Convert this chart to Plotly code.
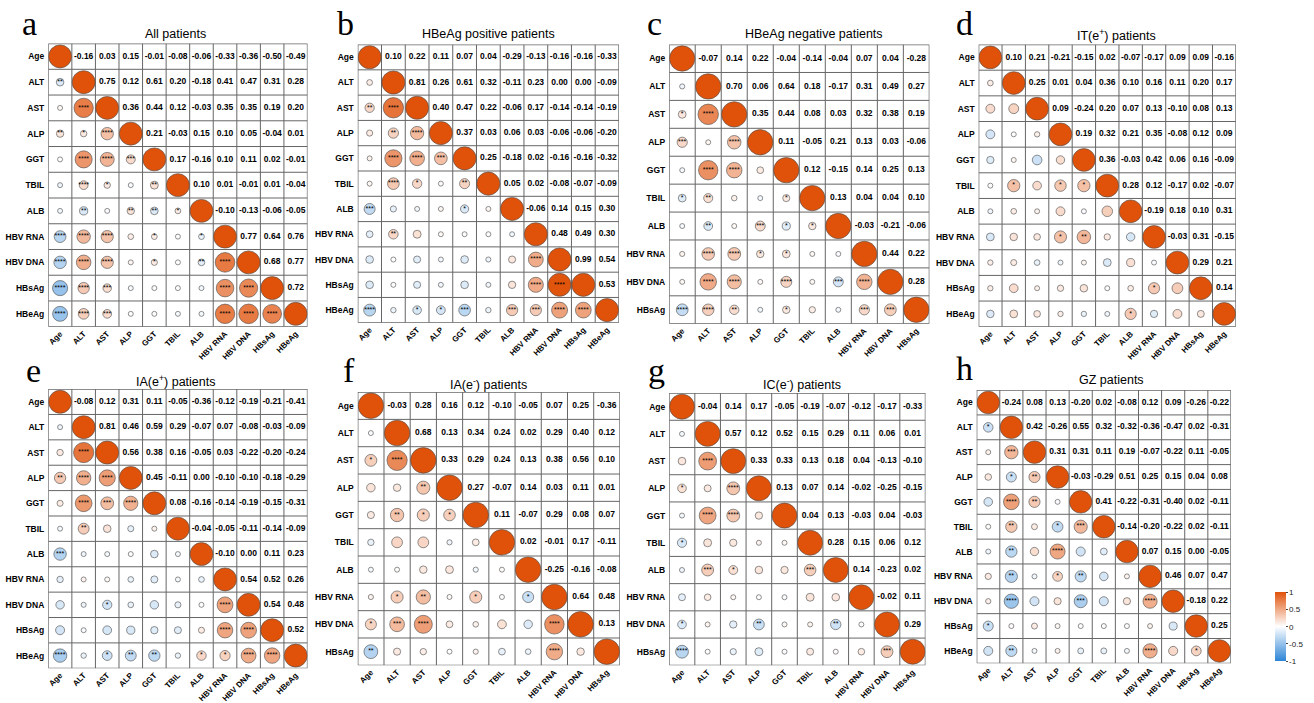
import math
import plotly.graph_objects as go

W, H = 1314, 703

VARS11 = ["Age", "ALT", "AST", "ALP", "GGT", "TBIL", "ALB", "HBV RNA", "HBV DNA", "HBsAg", "HBeAg"]
VARS10 = VARS11[:10]

# ---------------- data: upper-triangle correlation values (row i, columns j>i) ----------------
a_upper = [
    [-0.16, 0.03, 0.15, -0.01, -0.08, -0.06, -0.33, -0.36, -0.50, -0.49],
    [0.75, 0.12, 0.61, 0.20, -0.18, 0.41, 0.47, 0.31, 0.28],
    [0.36, 0.44, 0.12, -0.03, 0.35, 0.35, 0.19, 0.20],
    [0.21, -0.03, 0.15, 0.10, 0.05, -0.04, 0.01],
    [0.17, -0.16, 0.10, 0.11, 0.02, -0.01],
    [0.10, 0.01, -0.01, 0.01, -0.04],
    [-0.10, -0.13, -0.06, -0.05],
    [0.77, 0.64, 0.76],
    [0.68, 0.77],
    [0.72],
]
a_stars = [[2], [0, 4], [2, 1, 4], [0, 4, 4, 3], [0, 4, 1, 0, 2], [0, 2, 0, 2, 2, 1],
           [4, 4, 4, 0, 1, 0, 1], [4, 4, 4, 0, 1, 0, 2, 4], [4, 4, 3, 0, 0, 0, 0, 4, 4],
           [4, 4, 3, 0, 0, 0, 0, 4, 4, 4]]

b_upper = [
    [0.10, 0.22, 0.11, 0.07, 0.04, -0.29, -0.13, -0.16, -0.16, -0.33],
    [0.81, 0.26, 0.61, 0.32, -0.11, 0.23, 0.00, 0.00, -0.09],
    [0.40, 0.47, 0.22, -0.06, 0.17, -0.14, -0.14, -0.19],
    [0.37, 0.03, 0.06, 0.03, -0.06, -0.06, -0.20],
    [0.25, -0.18, 0.02, -0.16, -0.16, -0.32],
    [0.05, 0.02, -0.08, -0.07, -0.09],
    [-0.06, 0.14, 0.15, 0.30],
    [0.48, 0.49, 0.30],
    [0.99, 0.54],
    [0.53],
]
b_stars = [[0], [2, 4], [0, 2, 4], [0, 4, 4, 3], [0, 4, 1, 0, 2], [3, 0, 0, 0, 1, 0],
           [0, 2, 0, 0, 0, 0, 0], [0, 0, 0, 0, 0, 0, 0, 4], [0, 0, 0, 0, 0, 0, 0, 4, 4],
           [4, 0, 1, 1, 3, 0, 3, 3, 4, 4]]

c_upper = [
    [-0.07, 0.14, 0.22, -0.04, -0.14, -0.04, 0.07, 0.04, -0.28],
    [0.70, 0.06, 0.64, 0.18, -0.17, 0.31, 0.49, 0.27],
    [0.35, 0.44, 0.08, 0.03, 0.32, 0.38, 0.19],
    [0.11, -0.05, 0.21, 0.13, 0.03, -0.06],
    [0.12, -0.15, 0.14, 0.25, 0.13],
    [0.13, 0.04, 0.04, 0.10],
    [-0.03, -0.21, -0.06],
    [0.44, 0.22],
    [0.28],
]
c_stars = [[0], [1, 4], [3, 0, 4], [0, 4, 4, 0], [1, 2, 0, 0, 1], [0, 2, 0, 3, 1, 1],
           [0, 4, 4, 1, 1, 0, 0], [0, 4, 4, 0, 4, 0, 3, 4], [4, 4, 2, 0, 1, 0, 0, 3, 3]]

d_upper = [
    [0.10, 0.21, -0.21, -0.15, 0.02, -0.07, -0.17, 0.09, 0.09, -0.16],
    [0.25, 0.01, 0.04, 0.36, 0.10, 0.16, 0.11, 0.20, 0.17],
    [0.09, -0.24, 0.20, 0.07, 0.13, -0.10, 0.08, 0.13],
    [0.19, 0.32, 0.21, 0.35, -0.08, 0.12, 0.09],
    [0.36, -0.03, 0.42, 0.06, 0.16, -0.09],
    [0.28, 0.12, -0.17, 0.02, -0.07],
    [-0.19, 0.18, 0.10, 0.31],
    [-0.03, 0.31, -0.15],
    [0.29, 0.21],
    [0.14],
]
d_stars = [[0], [0, 0], [0, 0, 0], [0, 0, 0, 0], [0, 1, 0, 1, 1], [0, 0, 0, 0, 0, 0],
           [0, 0, 0, 1, 2, 0, 0], [0, 0, 0, 0, 0, 0, 0, 0], [0, 0, 0, 0, 0, 0, 0, 1, 0],
           [0, 0, 0, 0, 0, 0, 1, 0, 0, 0]]

e_upper = [
    [-0.08, 0.12, 0.31, 0.11, -0.05, -0.36, -0.12, -0.19, -0.21, -0.41],
    [0.81, 0.46, 0.59, 0.29, -0.07, 0.07, -0.08, -0.03, -0.09],
    [0.56, 0.38, 0.16, -0.05, 0.03, -0.22, -0.20, -0.24],
    [0.45, -0.11, 0.00, -0.10, -0.10, -0.18, -0.29],
    [0.08, -0.16, -0.14, -0.19, -0.15, -0.31],
    [-0.04, -0.05, -0.11, -0.14, -0.09],
    [-0.10, 0.00, 0.11, 0.23],
    [0.54, 0.52, 0.26],
    [0.54, 0.48],
    [0.52],
]
e_stars = [[0], [0, 4], [2, 4, 4], [0, 4, 3, 4], [0, 2, 0, 0, 0], [3, 0, 0, 0, 0, 0],
           [0, 0, 0, 0, 0, 0, 0], [0, 0, 1, 0, 0, 0, 0, 4], [0, 0, 0, 0, 0, 0, 0, 4, 4],
           [4, 0, 1, 2, 2, 0, 1, 1, 4, 4]]

f_upper = [
    [-0.03, 0.28, 0.16, 0.12, -0.10, -0.05, 0.07, 0.25, -0.36],
    [0.68, 0.13, 0.34, 0.24, 0.02, 0.29, 0.40, 0.12],
    [0.33, 0.29, 0.24, 0.13, 0.38, 0.56, 0.10],
    [0.27, -0.07, 0.14, 0.03, 0.11, 0.01],
    [0.11, -0.07, 0.29, 0.08, 0.07],
    [0.02, -0.01, 0.17, -0.11],
    [-0.25, -0.16, -0.08],
    [0.64, 0.48],
    [0.13],
]
f_stars = [[0], [1, 4], [0, 0, 2], [0, 2, 1, 1], [0, 0, 0, 0, 0], [0, 0, 0, 0, 0, 0],
           [0, 1, 2, 0, 1, 0, 1], [1, 3, 4, 0, 0, 0, 0, 4], [2, 0, 0, 0, 0, 0, 0, 4, 0]]

g_upper = [
    [-0.04, 0.14, 0.17, -0.05, -0.19, -0.07, -0.12, -0.17, -0.33],
    [0.57, 0.12, 0.52, 0.15, 0.29, 0.11, 0.06, 0.01],
    [0.33, 0.33, 0.13, 0.18, 0.04, -0.13, -0.10],
    [0.13, 0.07, 0.14, -0.02, -0.25, -0.15],
    [0.04, 0.13, -0.03, 0.04, -0.03],
    [0.28, 0.15, 0.06, 0.12],
    [0.14, -0.23, 0.02],
    [-0.02, 0.11],
    [0.29],
]
g_stars = [[0], [0, 4], [1, 0, 4], [0, 4, 4, 0], [1, 0, 0, 0, 0], [0, 3, 1, 0, 0, 3],
           [0, 0, 0, 0, 0, 0, 0], [1, 0, 0, 2, 0, 0, 2, 0], [4, 0, 0, 0, 0, 0, 0, 0, 3]]

h_upper = [
    [-0.24, 0.08, 0.13, -0.20, 0.02, -0.08, 0.12, 0.09, -0.26, -0.22],
    [0.42, -0.26, 0.55, 0.32, -0.32, -0.36, -0.47, 0.02, -0.31],
    [0.31, 0.31, 0.11, 0.19, -0.07, -0.22, 0.11, -0.05],
    [-0.03, -0.29, 0.51, 0.25, 0.15, 0.04, 0.08],
    [0.41, -0.22, -0.31, -0.40, 0.02, -0.11],
    [-0.14, -0.20, -0.22, 0.02, -0.11],
    [0.07, 0.15, 0.00, -0.05],
    [0.46, 0.07, 0.47],
    [-0.18, 0.22],
    [0.25],
]
h_stars = [[1], [0, 3], [0, 1, 2], [0, 4, 2, 0], [0, 2, 0, 1, 3], [0, 2, 0, 4, 0, 0],
           [0, 2, 0, 1, 2, 0, 0], [0, 4, 0, 0, 3, 0, 0, 4], [1, 0, 0, 0, 0, 0, 0, 0, 0],
           [0, 2, 0, 0, 0, 0, 0, 4, 0, 1]]

letters = ["a", "b", "c", "d", "e", "f", "g", "h"]
titles = ["All patients", "HBeAg positive patients", "HBeAg negative patients",
          "IT(e<sup>+</sup>) patients", "IA(e<sup>+</sup>) patients",
          "IA(e<sup>-</sup>) patients", "IC(e<sup>-</sup>) patients", "GZ patients"]
var_sets = [VARS11, VARS11, VARS10, VARS11, VARS11, VARS10, VARS10, VARS11]
uppers = [a_upper, b_upper, c_upper, d_upper, e_upper, f_upper, g_upper, h_upper]
stars_all = [a_stars, b_stars, c_stars, d_stars, e_stars, f_stars, g_stars, h_stars]

# ---------------- layout geometry (pixels) ----------------
grid_px = [(48, 44, 311, 330), (362, 45, 627, 326), (678, 45, 942, 327), (992, 45, 1253, 330),
           (48, 393, 311, 675), (362, 396, 628, 672), (678, 397, 938, 672), (990, 394, 1248, 670)]
title_px = [(177, 34), (495, 34), (825, 34), (1132, 35), (177, 385), (495, 388), (813, 388), (1127, 384)]
letter_px = [(29, 24), (350, 24), (663, 24), (978, 24), (33, 374), (353, 374), (665, 374), (978, 372)]

CS = [[0, "#2C84D6"], [0.5, "#FFFFFF"], [1, "#E0520A"]]
FONT = "Liberation Sans, Arial, sans-serif"

fig = go.Figure()
shapes = []
annotations = []

for k in range(8):
    vars_ = var_sets[k]
    n = len(vars_)
    up = uppers[k]
    st = stars_all[k]
    R = [[1.0] * n for _ in range(n)]
    for i in range(n - 1):
        for jj, v in enumerate(up[i]):
            j = i + 1 + jj
            R[i][j] = v
            R[j][i] = v

    gx0, gy0, gx1, gy1 = grid_px[k]
    cw = (gx1 - gx0) / n
    ch = (gy1 - gy0) / n
    D = 0.96 * min(cw, ch)

    xa = "x" if k == 0 else f"x{k + 1}"
    ya = "y" if k == 0 else f"y{k + 1}"

    cx, cy, cc, cs_ = [], [], [], []
    sx, sy, stxt = [], [], []
    tx, ty, ttxt = [], [], []
    for i in range(n):
        for j in range(n):
            r = R[i][j]
            if j <= i:
                cx.append(vars_[j])
                cy.append(vars_[i])
                cc.append(r)
                cs_.append(max(5.0, D * abs(r) ** 0.6))
                if j < i and st[i - 1][j] > 0:
                    sx.append(vars_[j])
                    sy.append(vars_[i])
                    stxt.append("*" * st[i - 1][j])
            else:
                tx.append(vars_[j])
                ty.append(vars_[i])
                ttxt.append(f"{r:.2f}")

    marker = dict(size=cs_, color=cc, colorscale=CS, cmin=-1, cmax=1, opacity=1,
                  line=dict(color="rgba(80,80,80,0.9)", width=0.7))
    if k == 0:
        marker["showscale"] = True
        marker["colorbar"] = dict(
            x=1283 / W, xanchor="left", y=1 - 633 / H, yanchor="middle",
            len=90 / H, lenmode="fraction", thickness=11, outlinewidth=0,
            tickvals=[-1, -0.5, 0, 0.5, 1], ticktext=["-1", "-0.5", "0", "0.5", "1"],
            ticks="outside", ticklen=2, tickcolor="#444",
            tickfont=dict(size=8, family=FONT, color="#222"),
        )
    else:
        marker["showscale"] = False

    fig.add_trace(go.Scatter(x=cx, y=cy, mode="markers", marker=marker, xaxis=xa, yaxis=ya,
                             hoverinfo="skip", showlegend=False))
    fig.add_trace(go.Scatter(x=sx, y=sy, mode="text", text=stxt, textposition="middle center",
                             textfont=dict(size=7, family=FONT, color="black"),
                             xaxis=xa, yaxis=ya, hoverinfo="skip", showlegend=False))
    fig.add_trace(go.Scatter(x=tx, y=ty, mode="text", text=ttxt, textposition="middle center",
                             textfont=dict(size=8.5, family=FONT, color="black", weight="bold"),
                             xaxis=xa, yaxis=ya, hoverinfo="skip", showlegend=False))

    xkey = "xaxis" if k == 0 else f"xaxis{k + 1}"
    ykey = "yaxis" if k == 0 else f"yaxis{k + 1}"
    fig.layout[xkey] = dict(
        domain=[gx0 / W, gx1 / W], anchor=ya, type="category",
        categoryorder="array", categoryarray=vars_, range=[-0.5, n - 0.5],
        tickangle=-45, showgrid=False, zeroline=False, showline=False, ticks="",
        tickfont=dict(size=8, family=FONT, color="black", weight="bold"), fixedrange=True,
    )
    fig.layout[ykey] = dict(
        domain=[1 - gy1 / H, 1 - gy0 / H], anchor=xa, type="category",
        categoryorder="array", categoryarray=vars_, range=[n - 0.5, -0.5],
        showgrid=False, zeroline=False, showline=False, ticks="", ticklabelstandoff=3,
        tickfont=dict(size=8.5, family=FONT, color="black", weight="bold"), fixedrange=True,
    )

    for b in range(n + 1):
        pos = b - 0.5
        lw = 1.3 if b in (0, n) else 1.0
        shapes.append(dict(type="line", xref=xa, yref=ya, x0=pos, x1=pos, y0=-0.5, y1=n - 0.5,
                           line=dict(color="#666666", width=lw), layer="below"))
        shapes.append(dict(type="line", xref=xa, yref=ya, x0=-0.5, x1=n - 0.5, y0=pos, y1=pos,
                           line=dict(color="#666666", width=lw), layer="below"))

    tx_, ty_ = title_px[k]
    annotations.append(dict(text=titles[k], x=tx_ / W, y=1 - ty_ / H, xref="paper", yref="paper",
                            xanchor="center", yanchor="middle", showarrow=False,
                            font=dict(size=12.5, family=FONT, color="black")))
    lx, ly = letter_px[k]
    annotations.append(dict(text=letters[k], x=lx / W, y=1 - ly / H, xref="paper", yref="paper",
                            xanchor="center", yanchor="middle", showarrow=False,
                            font=dict(size=34, family="Liberation Serif, Times New Roman, serif",
                                      color="black")))

fig.update_layout(
    width=W, height=H, autosize=False,
    margin=dict(l=0, r=0, t=0, b=0),
    paper_bgcolor="white", plot_bgcolor="white",
    shapes=shapes, annotations=annotations,
)

fig.write_html("out.html")
